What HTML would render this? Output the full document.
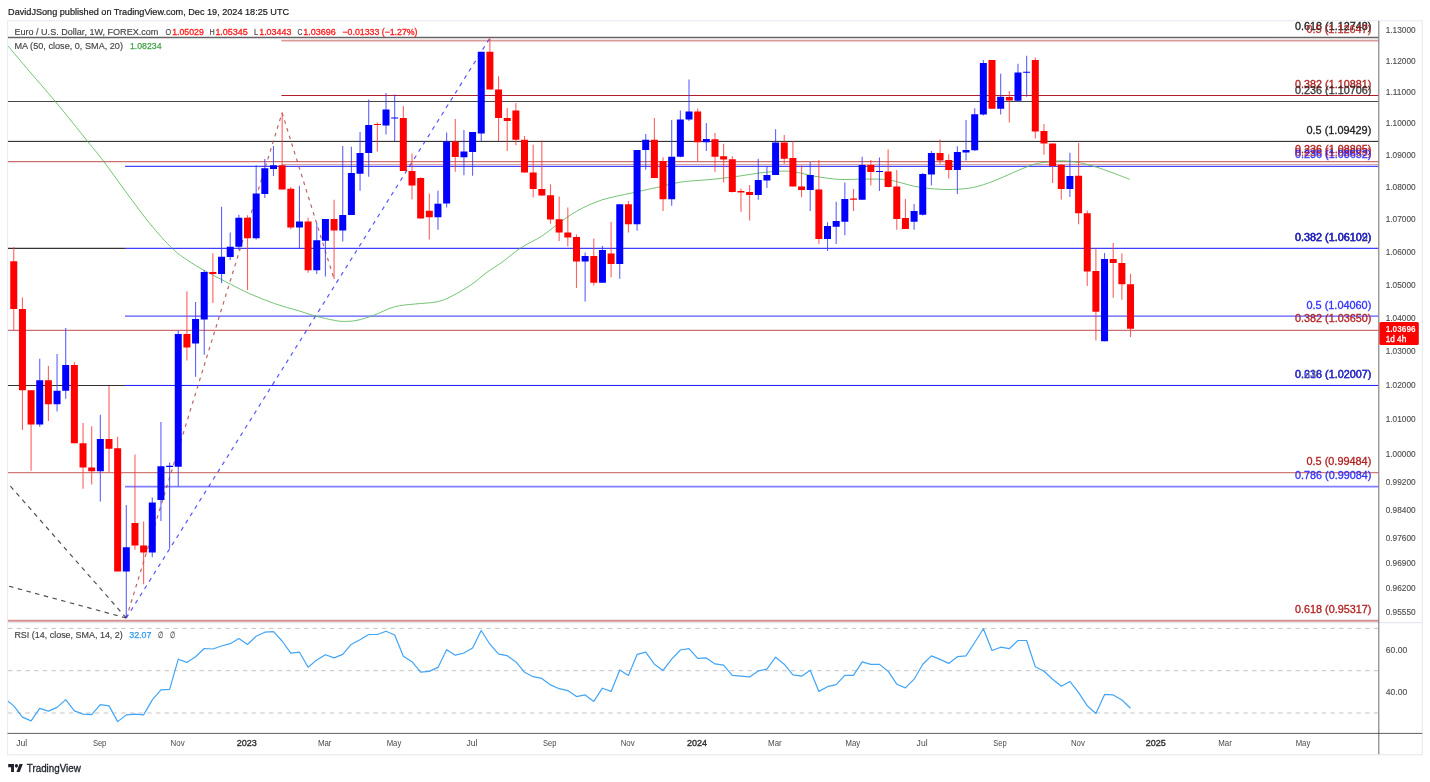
<!DOCTYPE html>
<html><head><meta charset="utf-8"><title>EURUSD weekly chart</title>
<style>html,body{margin:0;padding:0;background:#fff;}body{width:1430px;height:782px;overflow:hidden;font-family:"Liberation Sans",sans-serif;}svg{display:block;will-change:transform;transform:translateZ(0);}</style>
</head><body>
<svg width="1430" height="782" viewBox="0 0 1430 782" font-family="Liberation Sans, sans-serif">
<defs><clipPath id="cp"><rect x="8" y="21" width="1370.6" height="601.5"/></clipPath><clipPath id="cr"><rect x="8" y="623" width="1370.6" height="110"/></clipPath></defs>
<rect width="1430" height="782" fill="#fff"/>
<rect x="7.5" y="20.8" width="1414.8" height="733.9" fill="#fff" stroke="#e9ecf2" stroke-width="1.2"/>
<g clip-path="url(#cp)">
<line x1="8.0" y1="161.56" x2="1378.6" y2="161.56" stroke="#b22222" stroke-width="1.2" opacity="0.65"/>
<line x1="8.0" y1="330.45" x2="1378.6" y2="330.45" stroke="#b22222" stroke-width="1.3" opacity="0.65"/>
<line x1="8.0" y1="472.60" x2="1378.6" y2="472.60" stroke="#b22222" stroke-width="1.4" opacity="0.6"/>
<line x1="8.0" y1="37.50" x2="1378.6" y2="37.50" stroke="#000" stroke-width="1.3" opacity="0.6"/>
<line x1="8.0" y1="101.46" x2="1378.6" y2="101.46" stroke="#000" stroke-width="1.1" opacity="0.72"/>
<line x1="8.0" y1="141.38" x2="1378.6" y2="141.38" stroke="#000" stroke-width="1.0" opacity="0.9"/>
<line x1="8.0" y1="248.39" x2="125.0" y2="248.39" stroke="#000" stroke-width="1.1" opacity="0.8"/>
<line x1="8.0" y1="385.45" x2="125.0" y2="385.45" stroke="#000" stroke-width="1.1" opacity="0.8"/>
<line x1="281.4" y1="40.70" x2="1378.6" y2="40.70" stroke="#b22222" stroke-width="1.7" opacity="0.45"/>
<line x1="281.4" y1="95.45" x2="1378.6" y2="95.45" stroke="#b41e28" stroke-width="1.1" opacity="1"/>
<line x1="281.4" y1="164.50" x2="1378.6" y2="164.50" stroke="#b22222" stroke-width="1.2" opacity="0.42"/>
<line x1="125.0" y1="166.30" x2="1378.6" y2="166.30" stroke="#0000ff" stroke-width="1.0" opacity="0.9"/>
<line x1="125.0" y1="248.39" x2="1378.6" y2="248.39" stroke="#0000ff" stroke-width="1.2" opacity="0.75"/>
<line x1="125.0" y1="316.20" x2="1378.6" y2="316.20" stroke="#0000ff" stroke-width="1.3" opacity="0.65"/>
<line x1="125.0" y1="385.45" x2="1378.6" y2="385.45" stroke="#0000ff" stroke-width="1.0" opacity="0.9"/>
<line x1="125.0" y1="486.67" x2="1378.6" y2="486.67" stroke="#0000ff" stroke-width="1.7" opacity="0.5"/>
<line x1="126.3" y1="618.0" x2="-20.0" y2="451.6" stroke="#333" stroke-width="1.2" stroke-dasharray="4.5 4.5" opacity="0.85"/>
<line x1="126.3" y1="618.0" x2="-20.0" y2="578.4" stroke="#333" stroke-width="1.2" stroke-dasharray="4.5 4.5" opacity="0.85"/>
<line x1="126.3" y1="618.0" x2="282.1" y2="112.8" stroke="#b24a4a" stroke-width="1.2" stroke-dasharray="3.6 4.4" opacity="0.85"/>
<line x1="282.1" y1="112.8" x2="334.1" y2="279.1" stroke="#b24a4a" stroke-width="1.2" stroke-dasharray="3.6 4.4" opacity="0.85"/>
<line x1="126.3" y1="618.0" x2="489.9" y2="38.0" stroke="#3a3aff" stroke-width="1.2" stroke-dasharray="4 4.6" opacity="0.85"/>
<path d="M8.2 46.2C11.8 50.5 22.1 62.8 30.0 72.0C37.9 81.2 45.8 90.1 55.4 101.6C65.0 113.1 79.4 131.1 87.4 141.1C95.4 151.1 97.2 152.8 103.6 161.3C110.0 169.8 118.3 181.6 126.0 192.0C133.7 202.4 142.1 214.1 149.8 223.5C157.5 232.9 165.9 242.3 172.3 248.5C178.7 254.7 182.8 256.9 188.0 260.5C193.2 264.1 197.4 266.6 203.5 270.0C209.6 273.4 217.0 277.2 224.7 281.2C232.4 285.1 241.4 290.0 249.7 293.7C258.0 297.4 266.3 300.7 274.6 303.6C282.9 306.5 292.7 309.0 299.6 311.1C306.5 313.2 310.0 314.6 315.8 316.1C321.6 317.7 329.7 319.5 334.5 320.4C339.3 321.3 340.8 321.4 344.5 321.4C348.2 321.4 352.2 321.3 357.0 320.3C361.8 319.3 367.0 317.8 373.2 315.5C379.4 313.2 387.4 308.7 394.4 306.8C401.4 304.9 407.9 304.8 415.0 304.0C422.1 303.2 430.8 303.1 436.9 301.8C443.0 300.5 446.1 299.0 451.9 296.1C457.7 293.2 466.0 288.2 471.8 284.3C477.6 280.4 481.8 276.0 486.8 272.4C491.8 268.8 496.2 266.4 501.8 262.4C507.4 258.3 513.9 252.5 520.5 248.1C527.1 243.7 535.7 240.1 541.7 236.2C547.7 232.3 550.9 229.1 556.7 224.9C562.5 220.7 569.2 215.3 576.7 211.2C584.2 207.0 592.6 203.0 601.7 200.0C610.9 197.0 622.5 195.1 631.6 193.0C640.8 190.9 648.3 189.3 656.6 187.5C664.9 185.7 671.9 183.4 681.5 182.0C691.1 180.6 704.4 180.2 714.0 179.2C723.6 178.2 730.7 177.2 739.0 176.1C747.3 175.0 756.1 173.2 764.0 172.4C771.9 171.6 780.4 171.0 786.4 171.1C792.4 171.2 795.4 172.2 800.0 173.0C804.6 173.8 807.4 175.0 813.9 176.1C820.4 177.2 830.5 178.9 838.8 179.4C847.1 179.9 855.5 179.0 863.8 179.1C872.1 179.2 880.5 178.7 888.8 179.9C897.1 181.1 906.2 184.6 913.7 186.1C921.2 187.6 927.0 188.3 933.7 188.9C940.4 189.5 947.1 189.7 953.7 189.4C960.4 189.2 967.0 188.8 973.6 187.4C980.2 186.0 986.9 183.6 993.6 181.1C1000.3 178.6 1006.9 175.2 1013.6 172.4C1020.3 169.6 1027.8 166.2 1033.6 164.4C1039.4 162.7 1043.6 162.5 1048.5 161.9C1053.4 161.3 1057.9 160.7 1062.8 160.8C1067.7 160.9 1072.7 161.4 1077.7 162.3C1082.7 163.2 1087.7 164.6 1092.7 166.0C1097.7 167.4 1101.5 168.8 1107.7 171.0C1113.9 173.2 1126.0 177.9 1129.7 179.3" fill="none" stroke="#5cb85c" stroke-width="1.0" opacity="0.85"/>
<path d="M13.77 247.0V330.1M22.43 297.4V430.0M31.08 390.3V470.7M48.40 366.0V421.0M74.37 362.3V443.2M83.03 423.0V488.7M91.68 426.2V484.4M109.00 386.0V472.4M117.65 436.7V571.5M134.97 454.5V549.8M143.62 521.6V584.3M186.91 291.2V360.6M212.88 253.2V302.9M247.51 215.2V289.9M282.14 112.8V189.6M290.79 187.0V229.2M308.11 217.7V272.7M334.08 199.8V279.1M377.36 122.4V151.6M403.33 106.1V171.1M411.99 153.6V199.4M420.65 177.3V218.6M429.31 193.4V239.4M455.28 119.1V171.7M489.90 38.0V89.4M498.56 76.2V141.1M507.22 108.1V151.1M515.88 103.1V145.3M524.53 136.1V172.4M533.19 144.8V197.6M541.85 140.6V196.0M550.50 184.2V223.7M559.16 196.5V241.1M567.82 207.4V246.6M576.48 234.4V288.1M593.79 238.6V285.6M611.10 221.7V277.3M628.42 201.1V232.4M654.39 117.9V178.0M663.04 157.3V211.1M697.67 108.6V161.1M714.99 132.9V171.9M723.64 143.7V182.4M732.30 156.2V192.4M740.96 188.6V211.8M749.62 184.9V220.6M784.24 134.9V164.1M792.90 141.2V186.6M801.56 165.6V197.3M818.87 159.9V244.0M853.50 189.1V211.1M870.81 159.9V185.6M888.13 149.4V187.4M896.78 169.9V229.8M905.44 199.1V229.1M940.07 139.4V164.1M948.73 154.2V178.6M992.01 60.0V108.7M1009.32 90.9V122.4M1035.30 57.5V138.6M1043.95 124.1V154.8M1052.61 143.6V182.9M1061.27 164.0V199.4M1078.58 143.1V224.3M1087.24 210.5V286.1M1095.89 248.6V340.5M1113.21 242.9V297.8M1121.87 253.6V299.8M1130.52 273.8V337.0" stroke="#ff3838" stroke-width="1.1" fill="none" opacity="0.8"/>
<path d="M39.74 358.8V426.7M57.05 354.0V411.5M65.71 327.9V398.8M100.34 414.7V501.4M126.31 504.9V618.0M152.28 497.4V557.3M160.94 422.0V521.1M169.60 462.4V548.6M178.25 330.4V486.2M195.57 301.9V376.8M204.22 269.9V354.8M221.54 206.8V282.9M230.20 232.5V260.0M238.85 214.7V250.0M256.17 165.3V239.5M264.82 158.9V198.0M273.48 146.1V176.0M299.45 185.7V248.4M316.76 222.8V274.0M325.42 219.0V276.6M342.74 146.1V241.5M351.39 146.8V215.1M360.05 132.0V190.7M368.71 99.4V176.7M386.02 92.9V134.4M394.68 94.4V141.1M437.96 190.8V229.8M446.62 132.5V207.5M463.93 130.0V175.2M472.59 131.9V175.8M481.25 51.7V141.1M585.13 252.4V301.6M602.45 246.1V282.8M619.76 204.2V278.8M637.07 150.1V230.7M645.73 134.1V169.8M671.70 119.9V205.8M680.36 110.6V157.3M689.02 79.4V121.1M706.33 123.1V151.1M758.27 158.7V199.8M766.93 166.1V187.9M775.59 129.2V174.9M810.21 161.9V211.1M827.53 222.3V251.0M836.18 201.8V244.0M844.84 182.4V235.3M862.16 156.7V199.8M879.47 157.4V191.1M914.10 204.1V229.8M922.75 172.9V215.6M931.41 150.9V185.5M957.38 146.2V194.1M966.04 120.0V160.6M974.70 108.2V151.1M983.35 60.0V115.6M1000.67 73.7V114.5M1017.98 63.7V101.7M1026.64 55.7V96.7M1069.92 152.8V196.9M1104.55 252.9V341.3" stroke="#3838ff" stroke-width="1.1" fill="none" opacity="0.8"/>
<path d="M10.27 261.2h7V309.1h-7zM18.93 309.1h7V390.3h-7zM27.58 390.3h7V424.5h-7zM44.90 380.3h7V404.2h-7zM70.87 365.0h7V443.2h-7zM79.53 443.2h7V467.4h-7zM88.18 467.4h7V471.2h-7zM105.50 439.0h7V448.7h-7zM114.15 448.2h7V571.5h-7zM131.47 523.1h7V545.6h-7zM140.12 545.6h7V552.6h-7zM183.41 334.1h7V347.6h-7zM209.38 271.9h7V273.9h-7zM244.01 217.7h7V238.2h-7zM278.64 165.3h7V189.6h-7zM287.29 188.8h7V227.4h-7zM304.61 221.5h7V270.2h-7zM330.58 219.0h7V230.5h-7zM373.86 124.0h7V125.1h-7zM399.83 117.9h7V171.1h-7zM408.49 171.1h7V185.6h-7zM417.15 178.0h7V218.6h-7zM425.81 210.8h7V217.3h-7zM451.78 141.6h7V157.0h-7zM486.40 51.7h7V89.4h-7zM495.06 89.4h7V118.1h-7zM503.72 118.1h7V121.1h-7zM512.38 110.4h7V139.8h-7zM521.03 139.8h7V172.4h-7zM529.69 172.4h7V189.1h-7zM538.35 189.1h7V195.5h-7zM547.00 195.2h7V219.5h-7zM555.66 219.2h7V232.4h-7zM564.32 232.4h7V237.4h-7zM572.98 236.9h7V261.6h-7zM590.29 256.1h7V282.8h-7zM607.60 253.4h7V263.9h-7zM624.92 204.2h7V224.2h-7zM650.89 139.8h7V178.0h-7zM659.54 161.0h7V199.2h-7zM694.17 111.6h7V142.3h-7zM711.49 139.2h7V156.7h-7zM720.14 156.2h7V159.4h-7zM728.80 159.2h7V191.9h-7zM737.46 191.1h7V192.4h-7zM746.12 191.9h7V194.9h-7zM780.74 142.4h7V158.7h-7zM789.40 157.9h7V186.6h-7zM798.06 186.6h7V189.9h-7zM815.37 189.4h7V239.0h-7zM850.00 198.6h7V199.7h-7zM867.31 164.9h7V171.9h-7zM884.63 171.6h7V186.9h-7zM893.28 186.4h7V219.1h-7zM901.94 218.1h7V229.1h-7zM936.57 152.9h7V160.4h-7zM945.23 159.9h7V169.9h-7zM988.51 60.0h7V108.7h-7zM1005.82 96.9h7V100.4h-7zM1031.80 60.0h7V131.6h-7zM1040.45 131.1h7V143.6h-7zM1049.11 143.6h7V166.1h-7zM1057.77 164.8h7V189.1h-7zM1075.08 175.8h7V213.3h-7zM1083.74 213.2h7V271.6h-7zM1092.39 271.1h7V311.8h-7zM1109.71 259.1h7V263.1h-7zM1118.37 263.1h7V284.3h-7zM1127.02 284.3h7V328.7h-7z" fill="#ff0000"/>
<path d="M36.24 380.3h7V424.5h-7zM53.55 390.8h7V404.2h-7zM62.21 365.0h7V390.8h-7zM96.84 439.0h7V471.2h-7zM122.81 547.3h7V571.5h-7zM148.78 502.4h7V552.6h-7zM157.44 466.2h7V499.9h-7zM166.10 465.8h7V466.9h-7zM174.75 334.1h7V466.7h-7zM192.07 319.1h7V343.6h-7zM200.72 271.9h7V319.4h-7zM218.04 256.7h7V273.9h-7zM226.70 246.7h7V257.0h-7zM235.35 217.7h7V246.7h-7zM252.67 193.4h7V238.2h-7zM261.32 168.3h7V193.9h-7zM269.98 165.3h7V169.1h-7zM295.95 221.5h7V227.4h-7zM313.26 240.2h7V270.2h-7zM321.92 219.0h7V240.7h-7zM339.24 215.1h7V230.5h-7zM347.89 172.9h7V215.1h-7zM356.55 153.0h7V173.7h-7zM365.21 124.9h7V153.1h-7zM382.52 109.4h7V125.6h-7zM391.18 117.5h7V118.5h-7zM434.46 203.7h7V217.3h-7zM443.12 141.6h7V203.6h-7zM460.43 151.4h7V157.2h-7zM469.09 131.9h7V151.9h-7zM477.75 51.7h7V133.6h-7zM581.63 256.1h7V261.6h-7zM598.95 249.9h7V282.8h-7zM616.26 204.2h7V263.9h-7zM633.57 150.1h7V224.2h-7zM642.23 139.8h7V150.1h-7zM668.20 156.8h7V199.2h-7zM676.86 119.4h7V156.8h-7zM685.52 111.6h7V119.4h-7zM702.83 139.1h7V142.3h-7zM754.77 179.9h7V194.9h-7zM763.43 174.9h7V180.6h-7zM772.09 142.4h7V174.9h-7zM806.71 174.9h7V189.9h-7zM824.03 226.1h7V239.0h-7zM832.68 221.1h7V226.8h-7zM841.34 199.1h7V221.8h-7zM858.66 164.9h7V199.8h-7zM875.97 170.9h7V172.1h-7zM910.60 211.1h7V221.8h-7zM919.25 174.1h7V214.8h-7zM927.91 152.9h7V174.4h-7zM953.88 151.9h7V169.9h-7zM962.54 150.0h7V152.5h-7zM971.20 114.2h7V150.3h-7zM979.85 63.0h7V114.4h-7zM997.17 96.8h7V108.7h-7zM1014.48 72.4h7V100.7h-7zM1023.14 71.7h7V72.8h-7zM1066.42 176.0h7V189.1h-7zM1101.05 259.1h7V341.3h-7z" fill="#0000ff"/>
<text x="1371.3" y="29.7" font-size="10.6" fill="#222" text-anchor="end" textLength="76.3" lengthAdjust="spacingAndGlyphs" stroke="#222" stroke-width="0.3">0.618 (1.12748)</text>
<text x="1371.3" y="33.0" font-size="10.6" fill="#b22222" text-anchor="end" textLength="64.8" lengthAdjust="spacingAndGlyphs" opacity="0.9" stroke="#b22222" stroke-width="0.3">0.5 (1.12647)</text>
<text x="1371.3" y="88.0" font-size="10.6" fill="#b22222" text-anchor="end" textLength="76.3" lengthAdjust="spacingAndGlyphs" stroke="#b22222" stroke-width="0.3">0.382 (1.10881)</text>
<text x="1371.3" y="93.6" font-size="10.6" fill="#222" text-anchor="end" textLength="76.3" lengthAdjust="spacingAndGlyphs" opacity="0.9" stroke="#222" stroke-width="0.3">0.236 (1.10706)</text>
<text x="1371.3" y="134.2" font-size="10.6" fill="#222" text-anchor="end" textLength="64.8" lengthAdjust="spacingAndGlyphs" stroke="#222" stroke-width="0.3">0.5 (1.09429)</text>
<text x="1371.3" y="153.4" font-size="10.6" fill="#b22222" text-anchor="end" textLength="76.3" lengthAdjust="spacingAndGlyphs" stroke="#b22222" stroke-width="0.3">0.236 (1.08805)</text>
<text x="1371.3" y="156.4" font-size="10.6" fill="#b22222" text-anchor="end" textLength="76.3" lengthAdjust="spacingAndGlyphs" opacity="0.8" stroke="#b22222" stroke-width="0.3">0.236 (1.08693)</text>
<text x="1371.3" y="158.3" font-size="10.6" fill="#2222ff" text-anchor="end" textLength="76.3" lengthAdjust="spacingAndGlyphs" opacity="0.9" stroke="#2222ff" stroke-width="0.3">0.236 (1.08652)</text>
<text x="1371.3" y="240.9" font-size="10.6" fill="#222" text-anchor="end" textLength="76.3" lengthAdjust="spacingAndGlyphs" stroke="#222" stroke-width="0.3">0.382 (1.06102)</text>
<text x="1371.3" y="240.9" font-size="10.6" fill="#2222ff" text-anchor="end" textLength="76.3" lengthAdjust="spacingAndGlyphs" opacity="0.85" stroke="#2222ff" stroke-width="0.3">0.382 (1.06109)</text>
<text x="1371.3" y="308.8" font-size="10.6" fill="#3030ff" text-anchor="end" textLength="64.8" lengthAdjust="spacingAndGlyphs" stroke="#3030ff" stroke-width="0.3">0.5 (1.04060)</text>
<text x="1371.3" y="321.6" font-size="10.6" fill="#b22222" text-anchor="end" textLength="76.3" lengthAdjust="spacingAndGlyphs" stroke="#b22222" stroke-width="0.3">0.382 (1.03650)</text>
<text x="1371.3" y="377.6" font-size="10.6" fill="#222" text-anchor="end" textLength="76.3" lengthAdjust="spacingAndGlyphs" opacity="0.8" stroke="#222" stroke-width="0.3">0.236 (1.02007)</text>
<text x="1371.3" y="377.6" font-size="10.6" fill="#2222ff" text-anchor="end" textLength="76.3" lengthAdjust="spacingAndGlyphs" opacity="0.85" stroke="#2222ff" stroke-width="0.3">0.618 (1.02007)</text>
<text x="1371.3" y="465.2" font-size="10.6" fill="#b22222" text-anchor="end" textLength="64.8" lengthAdjust="spacingAndGlyphs" stroke="#b22222" stroke-width="0.3">0.5 (0.99484)</text>
<text x="1371.3" y="479.3" font-size="10.6" fill="#3030ff" text-anchor="end" textLength="76.3" lengthAdjust="spacingAndGlyphs" stroke="#3030ff" stroke-width="0.3">0.786 (0.99084)</text>
<text x="1371.3" y="613.4" font-size="10.6" fill="#b22222" text-anchor="end" textLength="76.3" lengthAdjust="spacingAndGlyphs" stroke="#b22222" stroke-width="0.3">0.618 (0.95317)</text>
</g>
<line x1="8.0" y1="620.87" x2="1378.6" y2="620.87" stroke="#c04848" stroke-width="2.0" opacity="0.6"/>
<line x1="7.5" y1="622.7" x2="1422.3" y2="622.7" stroke="#dfe2ea" stroke-width="1"/>
<line x1="8.0" y1="628.4" x2="1378" y2="628.4" stroke="#bdbdbd" stroke-width="1" stroke-dasharray="4.4 4.3" opacity="0.9"/>
<line x1="8.0" y1="670.7" x2="1378" y2="670.7" stroke="#bdbdbd" stroke-width="1" stroke-dasharray="4.4 4.3" opacity="0.9"/>
<line x1="8.0" y1="713.0" x2="1378" y2="713.0" stroke="#bdbdbd" stroke-width="1" stroke-dasharray="4.4 4.3" opacity="0.9"/>
<g clip-path="url(#cr)"><polyline points="8.0,701.1 13.8,705.9 22.4,717.1 31.1,720.9 39.7,708.4 48.4,711.1 57.1,707.4 65.7,699.6 74.4,710.9 83.0,714.1 91.7,714.6 100.3,704.6 109.0,705.9 117.7,721.6 126.3,714.9 135.0,714.1 143.6,714.9 152.3,699.9 160.9,689.9 169.6,689.4 178.3,659.2 186.9,662.4 195.6,656.7 204.2,648.5 212.9,649.0 221.5,646.0 230.2,643.7 238.9,638.5 247.5,644.5 256.2,636.2 264.8,632.2 273.5,631.7 282.1,641.0 290.8,653.2 299.5,652.2 308.1,667.2 316.8,659.9 325.4,654.7 334.1,657.9 342.7,654.4 351.4,644.2 360.0,639.7 368.7,634.5 377.4,634.5 386.0,631.2 394.7,635.0 403.3,656.2 412.0,661.7 420.6,672.2 429.3,671.4 438.0,667.4 446.6,649.7 455.3,655.2 463.9,653.0 472.6,648.0 481.2,630.5 489.9,644.2 498.6,654.2 507.2,655.7 515.9,661.9 524.5,672.2 533.2,676.7 541.8,678.4 550.5,684.9 559.2,688.7 567.8,690.6 576.5,696.6 585.1,694.9 593.8,701.4 602.4,688.2 611.1,691.4 619.8,669.9 628.4,675.4 637.1,654.4 645.7,652.2 654.4,664.2 663.0,670.4 671.7,659.2 680.4,650.0 689.0,648.7 697.7,658.4 706.3,657.9 715.0,663.9 723.6,665.2 732.3,675.4 741.0,676.2 749.6,676.9 758.3,670.9 766.9,669.2 775.6,657.2 784.2,664.2 792.9,674.9 801.6,676.2 810.2,670.2 818.9,691.4 827.5,686.7 836.2,684.7 844.8,675.4 853.5,675.4 862.2,661.9 870.8,664.4 879.5,664.4 888.1,671.2 896.8,684.2 905.4,687.9 914.1,679.2 922.8,664.2 931.4,655.9 940.1,659.4 948.7,663.4 957.4,656.7 966.0,655.9 974.7,642.5 983.4,628.7 992.0,650.5 1000.7,647.2 1009.3,648.7 1018.0,640.5 1026.6,640.5 1035.3,666.7 1044.0,671.2 1052.6,679.2 1061.3,686.2 1069.9,681.4 1078.6,692.6 1087.2,705.7 1095.9,713.5 1104.6,694.4 1113.2,694.9 1121.9,700.0 1130.5,708.3" fill="none" stroke="#42a5f5" stroke-width="1.2" stroke-linejoin="round"/></g>
<line x1="1378.8" y1="21" x2="1378.8" y2="754.3" stroke="#555" stroke-width="1.1" opacity="0.78"/>
<line x1="7.5" y1="733.4" x2="1422.3" y2="733.4" stroke="#444" stroke-width="1.0" opacity="0.85"/>
<text x="1385.7" y="32.9" font-size="9.4" fill="#505050" textLength="29.9" lengthAdjust="spacingAndGlyphs" stroke="#505050" stroke-width="0.15">1.13000</text>
<text x="1385.7" y="63.8" font-size="9.4" fill="#505050" textLength="29.9" lengthAdjust="spacingAndGlyphs" stroke="#505050" stroke-width="0.15">1.12000</text>
<text x="1385.7" y="94.9" font-size="9.4" fill="#505050" textLength="29.9" lengthAdjust="spacingAndGlyphs" stroke="#505050" stroke-width="0.15">1.11000</text>
<text x="1385.7" y="126.3" font-size="9.4" fill="#505050" textLength="29.9" lengthAdjust="spacingAndGlyphs" stroke="#505050" stroke-width="0.15">1.10000</text>
<text x="1385.7" y="157.9" font-size="9.4" fill="#505050" textLength="29.9" lengthAdjust="spacingAndGlyphs" stroke="#505050" stroke-width="0.15">1.09000</text>
<text x="1385.7" y="189.9" font-size="9.4" fill="#505050" textLength="29.9" lengthAdjust="spacingAndGlyphs" stroke="#505050" stroke-width="0.15">1.08000</text>
<text x="1385.7" y="222.2" font-size="9.4" fill="#505050" textLength="29.9" lengthAdjust="spacingAndGlyphs" stroke="#505050" stroke-width="0.15">1.07000</text>
<text x="1385.7" y="254.8" font-size="9.4" fill="#505050" textLength="29.9" lengthAdjust="spacingAndGlyphs" stroke="#505050" stroke-width="0.15">1.06000</text>
<text x="1385.7" y="287.6" font-size="9.4" fill="#505050" textLength="29.9" lengthAdjust="spacingAndGlyphs" stroke="#505050" stroke-width="0.15">1.05000</text>
<text x="1385.7" y="320.8" font-size="9.4" fill="#505050" textLength="29.9" lengthAdjust="spacingAndGlyphs" stroke="#505050" stroke-width="0.15">1.04000</text>
<text x="1385.7" y="354.4" font-size="9.4" fill="#505050" textLength="29.9" lengthAdjust="spacingAndGlyphs" stroke="#505050" stroke-width="0.15">1.03000</text>
<text x="1385.7" y="388.2" font-size="9.4" fill="#505050" textLength="29.9" lengthAdjust="spacingAndGlyphs" stroke="#505050" stroke-width="0.15">1.02000</text>
<text x="1385.7" y="422.4" font-size="9.4" fill="#505050" textLength="29.9" lengthAdjust="spacingAndGlyphs" stroke="#505050" stroke-width="0.15">1.01000</text>
<text x="1385.7" y="456.9" font-size="9.4" fill="#505050" textLength="29.9" lengthAdjust="spacingAndGlyphs" stroke="#505050" stroke-width="0.15">1.00000</text>
<text x="1385.7" y="484.8" font-size="9.4" fill="#505050" textLength="29.9" lengthAdjust="spacingAndGlyphs" stroke="#505050" stroke-width="0.15">0.99200</text>
<text x="1385.7" y="512.9" font-size="9.4" fill="#505050" textLength="29.9" lengthAdjust="spacingAndGlyphs" stroke="#505050" stroke-width="0.15">0.98400</text>
<text x="1385.7" y="541.2" font-size="9.4" fill="#505050" textLength="29.9" lengthAdjust="spacingAndGlyphs" stroke="#505050" stroke-width="0.15">0.97600</text>
<text x="1385.7" y="566.1" font-size="9.4" fill="#505050" textLength="29.9" lengthAdjust="spacingAndGlyphs" stroke="#505050" stroke-width="0.15">0.96900</text>
<text x="1385.7" y="591.3" font-size="9.4" fill="#505050" textLength="29.9" lengthAdjust="spacingAndGlyphs" stroke="#505050" stroke-width="0.15">0.96200</text>
<text x="1385.7" y="614.8" font-size="9.4" fill="#505050" textLength="29.9" lengthAdjust="spacingAndGlyphs" stroke="#505050" stroke-width="0.15">0.95550</text>
<text x="1385.7" y="652.6" font-size="9.4" fill="#505050" textLength="21.5" lengthAdjust="spacingAndGlyphs" stroke="#505050" stroke-width="0.15">60.00</text>
<text x="1385.7" y="694.6" font-size="9.4" fill="#505050" textLength="21.5" lengthAdjust="spacingAndGlyphs" stroke="#505050" stroke-width="0.15">40.00</text>
<rect x="1379.4" y="322" width="39.4" height="23" rx="1.5" fill="#ff0000"/>
<text x="1385.7" y="332.2" font-size="8.8" fill="#fff" textLength="29.9" lengthAdjust="spacingAndGlyphs" font-weight="bold">1.03696</text>
<text x="1385.7" y="341.8" font-size="8.8" fill="#fff" textLength="20.5" lengthAdjust="spacingAndGlyphs" stroke="#fff" stroke-width="0.3">1d 4h</text>
<text x="21.7" y="745.6" font-size="9.0" fill="#4a4a4a" text-anchor="middle" textLength="11.0" lengthAdjust="spacingAndGlyphs">Jul</text>
<text x="99.6" y="745.6" font-size="9.0" fill="#4a4a4a" text-anchor="middle" textLength="13.4" lengthAdjust="spacingAndGlyphs">Sep</text>
<text x="177.6" y="745.6" font-size="9.0" fill="#4a4a4a" text-anchor="middle" textLength="14.0" lengthAdjust="spacingAndGlyphs">Nov</text>
<text x="246.8" y="745.8" font-size="9.4" fill="#333" text-anchor="middle" textLength="20.0" lengthAdjust="spacingAndGlyphs" stroke="#333" stroke-width="0.4">2023</text>
<text x="324.7" y="745.6" font-size="9.0" fill="#4a4a4a" text-anchor="middle" textLength="13.6" lengthAdjust="spacingAndGlyphs">Mar</text>
<text x="394.0" y="745.6" font-size="9.0" fill="#4a4a4a" text-anchor="middle" textLength="14.6" lengthAdjust="spacingAndGlyphs">May</text>
<text x="471.9" y="745.6" font-size="9.0" fill="#4a4a4a" text-anchor="middle" textLength="11.0" lengthAdjust="spacingAndGlyphs">Jul</text>
<text x="549.8" y="745.6" font-size="9.0" fill="#4a4a4a" text-anchor="middle" textLength="13.4" lengthAdjust="spacingAndGlyphs">Sep</text>
<text x="627.7" y="745.6" font-size="9.0" fill="#4a4a4a" text-anchor="middle" textLength="14.0" lengthAdjust="spacingAndGlyphs">Nov</text>
<text x="697.0" y="745.8" font-size="9.4" fill="#333" text-anchor="middle" textLength="20.0" lengthAdjust="spacingAndGlyphs" stroke="#333" stroke-width="0.4">2024</text>
<text x="774.9" y="745.6" font-size="9.0" fill="#4a4a4a" text-anchor="middle" textLength="13.6" lengthAdjust="spacingAndGlyphs">Mar</text>
<text x="852.8" y="745.6" font-size="9.0" fill="#4a4a4a" text-anchor="middle" textLength="14.6" lengthAdjust="spacingAndGlyphs">May</text>
<text x="922.1" y="745.6" font-size="9.0" fill="#4a4a4a" text-anchor="middle" textLength="11.0" lengthAdjust="spacingAndGlyphs">Jul</text>
<text x="1000.0" y="745.6" font-size="9.0" fill="#4a4a4a" text-anchor="middle" textLength="13.4" lengthAdjust="spacingAndGlyphs">Sep</text>
<text x="1077.9" y="745.6" font-size="9.0" fill="#4a4a4a" text-anchor="middle" textLength="14.0" lengthAdjust="spacingAndGlyphs">Nov</text>
<text x="1155.8" y="745.8" font-size="9.4" fill="#333" text-anchor="middle" textLength="20.0" lengthAdjust="spacingAndGlyphs" stroke="#333" stroke-width="0.4">2025</text>
<text x="1225.0" y="745.6" font-size="9.0" fill="#4a4a4a" text-anchor="middle" textLength="13.6" lengthAdjust="spacingAndGlyphs">Mar</text>
<text x="1303.0" y="745.6" font-size="9.0" fill="#4a4a4a" text-anchor="middle" textLength="14.6" lengthAdjust="spacingAndGlyphs">May</text>
<text x="8.1" y="14.9" font-size="9.3" fill="#1a1a1a" textLength="281.0" lengthAdjust="spacingAndGlyphs" stroke="#1a1a1a" stroke-width="0.2">DavidJSong published on TradingView.com, Dec 19, 2024 18:25 UTC</text>
<text x="14.4" y="35.3" font-size="9.0" fill="#444" textLength="144.0" lengthAdjust="spacingAndGlyphs" stroke="#444" stroke-width="0.15">Euro / U.S. Dollar, 1W, FOREX.com</text>
<text x="165.4" y="35.3" font-size="9.0" fill="#444" textLength="5.6" lengthAdjust="spacingAndGlyphs" stroke="#444" stroke-width="0.15">O</text>
<text x="172.2" y="35.3" font-size="9.0" fill="#ff1a1a" textLength="31.6" lengthAdjust="spacingAndGlyphs" stroke="#ff1a1a" stroke-width="0.3">1.05029</text>
<text x="209.6" y="35.3" font-size="9.0" fill="#444" textLength="5.2" lengthAdjust="spacingAndGlyphs" stroke="#444" stroke-width="0.15">H</text>
<text x="215.4" y="35.3" font-size="9.0" fill="#ff1a1a" textLength="32.4" lengthAdjust="spacingAndGlyphs" stroke="#ff1a1a" stroke-width="0.3">1.05345</text>
<text x="254.0" y="35.3" font-size="9.0" fill="#444" textLength="4.2" lengthAdjust="spacingAndGlyphs" stroke="#444" stroke-width="0.15">L</text>
<text x="259.2" y="35.3" font-size="9.0" fill="#ff1a1a" textLength="32.2" lengthAdjust="spacingAndGlyphs" stroke="#ff1a1a" stroke-width="0.3">1.03443</text>
<text x="297.4" y="35.3" font-size="9.0" fill="#444" textLength="5.0" lengthAdjust="spacingAndGlyphs" stroke="#444" stroke-width="0.15">C</text>
<text x="303.2" y="35.3" font-size="9.0" fill="#ff1a1a" textLength="32.6" lengthAdjust="spacingAndGlyphs" stroke="#ff1a1a" stroke-width="0.3">1.03696</text>
<text x="342.5" y="35.3" font-size="9.0" fill="#ff1a1a" textLength="75.0" lengthAdjust="spacingAndGlyphs" stroke="#ff1a1a" stroke-width="0.3">&#8722;0.01333 (&#8722;1.27%)</text>
<text x="14.4" y="49.1" font-size="9.0" fill="#444" textLength="108.6" lengthAdjust="spacingAndGlyphs" stroke="#444" stroke-width="0.15">MA (50, close, 0, SMA, 20)</text>
<text x="130.0" y="49.1" font-size="9.0" fill="#43a047" textLength="31.5" lengthAdjust="spacingAndGlyphs" stroke="#43a047" stroke-width="0.25">1.08234</text>
<text x="14.4" y="637.6" font-size="9.0" fill="#444" textLength="108.4" lengthAdjust="spacingAndGlyphs" stroke="#444" stroke-width="0.15">RSI (14, close, SMA, 14, 2)</text>
<text x="129.2" y="637.6" font-size="9.0" fill="#2f9bf0" textLength="22.3" lengthAdjust="spacingAndGlyphs" stroke="#2f9bf0" stroke-width="0.25">32.07</text>
<text x="158.2" y="637.6" font-size="9.0" fill="#444" textLength="5.4" lengthAdjust="spacingAndGlyphs" stroke="#444" stroke-width="0.15">&#8709;</text>
<text x="170.4" y="637.6" font-size="9.0" fill="#444" textLength="5.4" lengthAdjust="spacingAndGlyphs" stroke="#444" stroke-width="0.15">&#8709;</text>
<g transform="translate(8.2,762.3) scale(0.411,0.444)" fill="#1e222d"><path d="M14 22H7V11H0V4h14v18z"/><circle cx="20" cy="8" r="4"/><path d="M28 22h-8l7.5-18h8L28 22z"/></g>
<text x="26.8" y="772.0" font-size="10.2" fill="#1e222d" textLength="54.0" lengthAdjust="spacingAndGlyphs" stroke="#1e222d" stroke-width="0.3">TradingView</text>
</svg>
</body></html>
